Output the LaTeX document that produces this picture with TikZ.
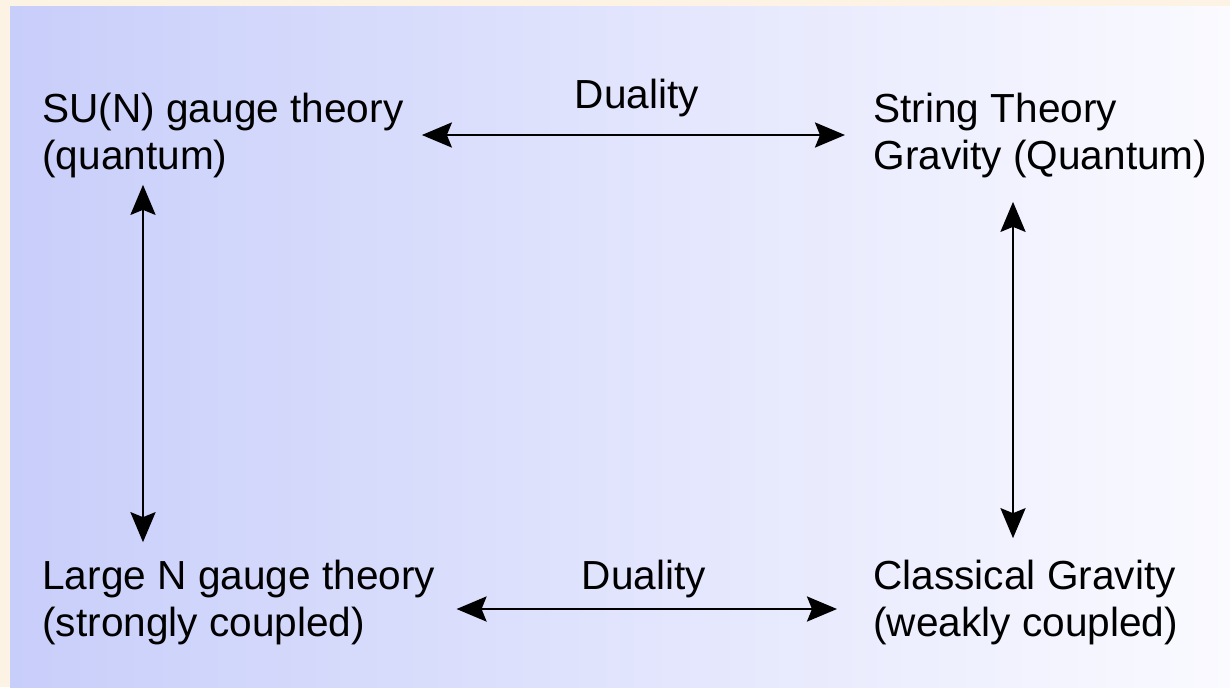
\documentclass[tikz,border=0pt]{standalone}
\usepackage{fontspec}
\setmainfont{Liberation Sans}
\usetikzlibrary{arrows.meta,calc}
\definecolor{creambg}{RGB}{253,243,228}
\definecolor{panelleft}{RGB}{200,206,250}
\definecolor{panelright}{RGB}{250,250,255}
\tikzset{
  lbl/.style={inner sep=0pt, align=left, font=\fontsize{20.3pt}{23.5pt}\selectfont, anchor=base west},
  duallbl/.style={inner sep=0pt, font=\fontsize{20.3pt}{23.5pt}\selectfont, anchor=base},
  dualarrow/.style={line width=1.4pt, {Stealth[length=15pt,width=12.5pt,inset=2.5pt]}-{Stealth[length=15pt,width=12.5pt,inset=2.5pt]}}
}
\begin{document}
\begin{tikzpicture}[x=0.5pt,y=-0.5pt]
\useasboundingbox (0,0) rectangle (1230,687);
\fill[creambg] (0,0) rectangle (1230,687);
\shade[left color=panelleft, right color=panelright] (10,6) rectangle (1230,687);
\node[lbl] (tl) at (42,169) {SU(N) gauge theory\\(quantum)};
\node[lbl] (tr) at (873,169) {String Theory\\Gravity (Quantum)};
\node[lbl] (bl) at (42,636) {Large N gauge theory\\(strongly coupled)};
\node[lbl] (br) at (873,636) {Classical Gravity\\(weakly coupled)};
\node[duallbl] (d1) at (637,108) {Duality};
\node[duallbl] (d2) at (644,589) {Duality};
\coordinate (tlA) at ($(tl.east |- d1.base)+(18,27)$);
\coordinate (trA) at ($(tr.west |- d1.base)+(-28,27)$);
\draw[dualarrow] (tlA) -- (trA);
\coordinate (blA) at ($(bl.east |- d2.base)+(21,20)$);
\coordinate (brA) at ($(br.west |- d2.base)+(-36,20)$);
\draw[dualarrow] (blA) -- (brA);
\draw[dualarrow] ($(tl.west |- tl.south)+(101,7)$) -- ($(bl.west |- bl.north)+(101,-17)$);
\draw[dualarrow] ($(tr.west |- tr.south)+(140,24)$) -- ($(br.west |- br.north)+(140,-21)$);
\end{tikzpicture}
\end{document}
